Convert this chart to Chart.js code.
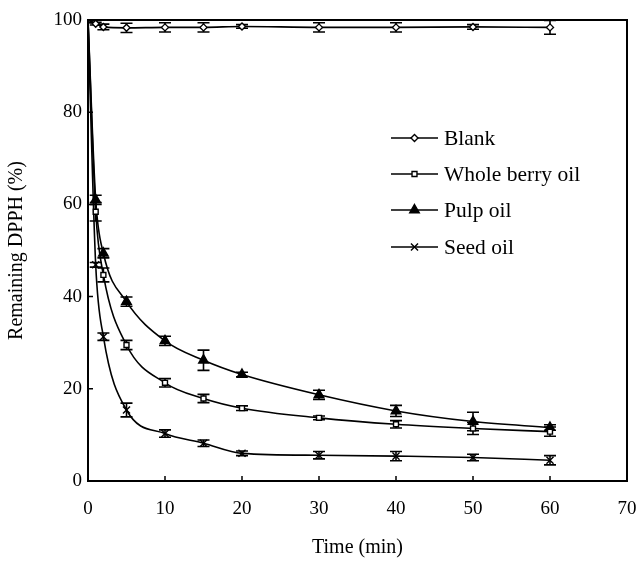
<!DOCTYPE html>
<html><head><meta charset="utf-8">
<script src="https://cdn.jsdelivr.net/npm/chart.js@4.4.1/dist/chart.umd.min.js"></script>
<style>html,body{margin:0;padding:0;background:#fff}#wrap{width:637px;height:561px;position:relative}</style>
</head><body><div id="wrap"><canvas id="c" width="637" height="561"></canvas></div>
<script>
const times = [0, 1, 2, 5, 10, 15, 20, 30, 40, 50, 60];
const blank = [100, 99.2, 98.5, 98.3, 98.4, 98.4, 98.6, 98.4, 98.4, 98.5, 98.4];
const blankErr = [0, 0.3, 0.6, 1.0, 1.0, 1.0, 0.4, 1.0, 1.0, 0.5, 1.5];
const wholeBerry = [100, 58.4, 44.7, 29.5, 21.3, 17.9, 15.8, 13.7, 12.3, 11.4, 10.7];
const wholeBerryErr = [0, 2.0, 1.5, 1.0, 0.9, 0.9, 0.5, 0.4, 0.8, 1.3, 1.0];
const pulp = [100, 61.0, 49.4, 38.9, 30.4, 26.2, 23.1, 18.7, 15.2, 12.9, 11.6];
const pulpErr = [0, 1.0, 1.0, 1.0, 1.0, 2.2, 0.5, 1.0, 1.2, 2.0, 0.6];
const seed = [100, 46.9, 31.3, 15.4, 10.3, 8.2, 6.0, 5.6, 5.4, 5.1, 4.5];
const seedErr = [0, 0.5, 0.8, 1.5, 0.8, 0.7, 0.5, 0.8, 1.0, 0.7, 1.0];
const seriesNames = ['Blank', 'Whole berry oil', 'Pulp oil', 'Seed oil'];
const xTicks = [0, 10, 20, 30, 40, 50, 60, 70];
const yTicks = [0, 20, 40, 60, 80, 100];
const xTitle = 'Time (min)';
const yTitle = 'Remaining DPPH (%)';

const FONT = 'Liberation Serif';
const toPts = (ys) => times.map((t, i) => ({x: t, y: ys[i]}));

const styles = [
  {pointStyle: 'rectRot', radius: 3.5, bg: '#fff'},
  {pointStyle: 'rect', radius: 3.5, bg: '#fff'},
  {pointStyle: 'triangle', radius: 5.5, bg: '#000'},
  {pointStyle: 'crossRot', radius: 5, bg: '#000'}
];
const allVals = [blank, wholeBerry, pulp, seed];
const allErr = [blankErr, wholeBerryErr, pulpErr, seedErr];

const datasets = allVals.map((v, i) => ({
  label: seriesNames[i],
  data: toPts(v),
  errors: allErr[i],
  borderColor: '#000',
  borderWidth: 1.6,
  backgroundColor: styles[i].bg,
  pointStyle: styles[i].pointStyle,
  pointRadius: styles[i].radius,
  pointBackgroundColor: styles[i].bg,
  pointBorderColor: '#000',
  pointBorderWidth: 1.4,
  cubicInterpolationMode: 'monotone',
  fill: false
}));

const errorBars = {
  id: 'errorBars',
  beforeDatasetsDraw(chart) {
    const {ctx} = chart;
    const ys = chart.scales.y;
    ctx.save();
    ctx.strokeStyle = '#000';
    ctx.lineWidth = 1.6;
    chart.data.datasets.forEach((ds, di) => {
      const meta = chart.getDatasetMeta(di);
      meta.data.forEach((pt, i) => {
        const e = ds.errors[i];
        if (!e) return;
        const v = ds.data[i].y;
        const y1 = ys.getPixelForValue(v + e), y2 = ys.getPixelForValue(v - e);
        const x = pt.x, w = 6;
        ctx.beginPath();
        ctx.moveTo(x, y1); ctx.lineTo(x, y2);
        ctx.moveTo(x - w, y1); ctx.lineTo(x + w, y1);
        ctx.moveTo(x - w, y2); ctx.lineTo(x + w, y2);
        ctx.stroke();
      });
    });
    ctx.restore();
  }
};

const frame = {
  id: 'frame',
  afterDraw(chart) {
    const {ctx, chartArea: a} = chart;
    const xs = chart.scales.x, ys = chart.scales.y;
    ctx.save();
    ctx.strokeStyle = '#000';
    ctx.lineWidth = 2;
    ctx.strokeRect(a.left, a.top, a.right - a.left, a.bottom - a.top);
    ctx.lineWidth = 1.5;
    ctx.beginPath();
    xTicks.forEach(v => { const x = xs.getPixelForValue(v); ctx.moveTo(x, a.bottom); ctx.lineTo(x, a.bottom - 5); });
    yTicks.forEach(v => { const y = ys.getPixelForValue(v); ctx.moveTo(a.left, y); ctx.lineTo(a.left + 5, y); });
    ctx.stroke();
    // legend inside plot
    const rows = [138, 174, 210, 247];
    const lx1 = 391, lx2 = 438, tx = 444;
    ctx.font = '21.5px "' + FONT + '"';
    ctx.fillStyle = '#000';
    ctx.textBaseline = 'middle';
    chart.data.datasets.forEach((ds, i) => {
      const y = rows[i];
      ctx.lineWidth = 1.6;
      ctx.beginPath(); ctx.moveTo(lx1, y); ctx.lineTo(lx2, y); ctx.stroke();
      ctx.lineWidth = 1.4;
      ctx.fillStyle = ds.pointBackgroundColor;
      Chart.helpers.drawPoint(ctx, {pointStyle: ds.pointStyle, radius: ds.pointRadius, rotation: 0, borderWidth: 1.4}, (lx1 + lx2) / 2, y);
      ctx.fillStyle = '#000';
      ctx.fillText(ds.label, tx, y + 1);
    });
    ctx.restore();
  }
};

new Chart(document.getElementById('c'), {
  type: 'line',
  data: {datasets},
  options: {
    responsive: false,
    animation: false,
    events: [],
    layout: {padding: {top: 20, right: 10, left: 0, bottom: 0}},
    plugins: {legend: {display: false}, tooltip: {enabled: false}},
    scales: {
      x: {
        type: 'linear', min: 0, max: 70,
        afterBuildTicks: s => { s.ticks = xTicks.map(v => ({value: v})); },
        afterFit: s => { s.height = 80; s.paddingRight = 0; s.paddingLeft = 0; },
        grid: {display: false, drawTicks: false},
        border: {display: false},
        ticks: {color: '#000', font: {family: FONT, size: 19}, padding: 17, maxRotation: 0},
        title: {display: true, text: xTitle, color: '#000', font: {family: FONT, size: 20}, padding: {top: 0, bottom: 1}}
      },
      y: {
        type: 'linear', min: 0, max: 100,
        afterBuildTicks: s => { s.ticks = yTicks.map(v => ({value: v})); },
        afterFit: s => { s.width = 88; s.paddingTop = 0; s.paddingBottom = 0; },
        grid: {display: false, drawTicks: false},
        border: {display: false},
        ticks: {color: '#000', font: {family: FONT, size: 19}, padding: 6},
        title: {display: true, text: yTitle, color: '#000', font: {family: FONT, size: 20}, padding: {top: 5, bottom: 0}}
      }
    }
  },
  plugins: [errorBars, frame]
});
</script>
</body></html>
